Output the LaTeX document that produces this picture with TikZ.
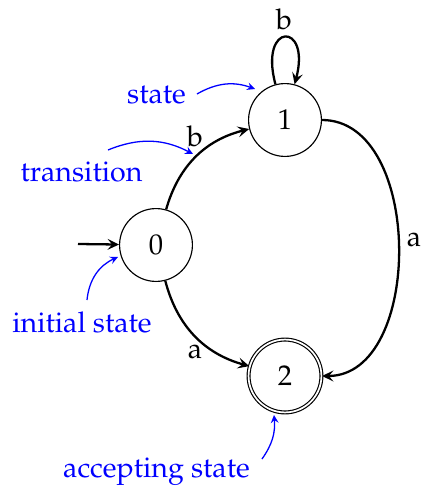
\documentclass[tikz,border=0pt]{standalone}
\usepackage[T1]{fontenc}
\usepackage{mathpazo}
\usetikzlibrary{arrows.meta}
\begin{document}
\begin{tikzpicture}[x=0.35pt,y=0.35pt,
  statenode/.style={circle,draw,line width=0.4pt,minimum size=25.5pt,inner sep=0pt},
  acceptnode/.style={statenode,double,double distance=0.6pt},
  edge/.style={line width=0.8pt,-{Stealth[length=4pt,width=3.8pt,inset=1.6pt]}},
  note/.style={blue,anchor=base,inner sep=0pt},
  notearrow/.style={blue,line width=0.45pt,-{Stealth[length=2.8pt,width=2.7pt,inset=1pt]}},
  lbl/.style={inner sep=0pt}]
\useasboundingbox (0,0) rectangle (422,486);
% states
\node[statenode] (n0) at (156,241) {0};
\node[statenode] (n1) at (285,366) {1};
\node[acceptnode] (n2) at (285,110) {2};
% initial arrow
\coordinate (init) at (78,242);
\draw[edge] (init) -- (n0);
% transitions
\draw[edge] (n1.105) .. controls +(105:65) and +(75:65) .. (n1.75);
\draw[edge] (n0) to[bend left=30] (n1);
\draw[edge] (n0) to[bend right=30] (n2);
\draw[edge] (n1) to[out=0,in=0,looseness=1.02] (n2);
% labels
\node[lbl] (lb1) at (284,467) {b};
\node[lbl] (lb2) at (195,350) {b};
\node[lbl] (la1) at (195,134) {a};
\node[lbl] (la2) at (414,246) {a};
% annotations
\node[note] (tstate) at (156.5,382) {state};
\node[note] (ttrans) at (81.5,305) {transition};
\node[note] (tinit) at (82,154) {initial state};
\node[note] (tacc) at (156.5,8) {accepting state};
\coordinate (s1) at (197,392);
\coordinate (s2) at (255,397);
\coordinate (t1) at (108,336);
\coordinate (t2) at (193,332);
\coordinate (i1) at (87,186);
\coordinate (i2) at (118,229);
\coordinate (a1) at (262,27);
\coordinate (a2) at (274,71);
\draw[notearrow] (s1) to[bend left=25] (s2);
\draw[notearrow] (t1) to[bend left=25] (t2);
\draw[notearrow] (i1) to[bend left=30] (i2);
\draw[notearrow] (a1) to[bend right=20] (a2);
\end{tikzpicture}
\end{document}
